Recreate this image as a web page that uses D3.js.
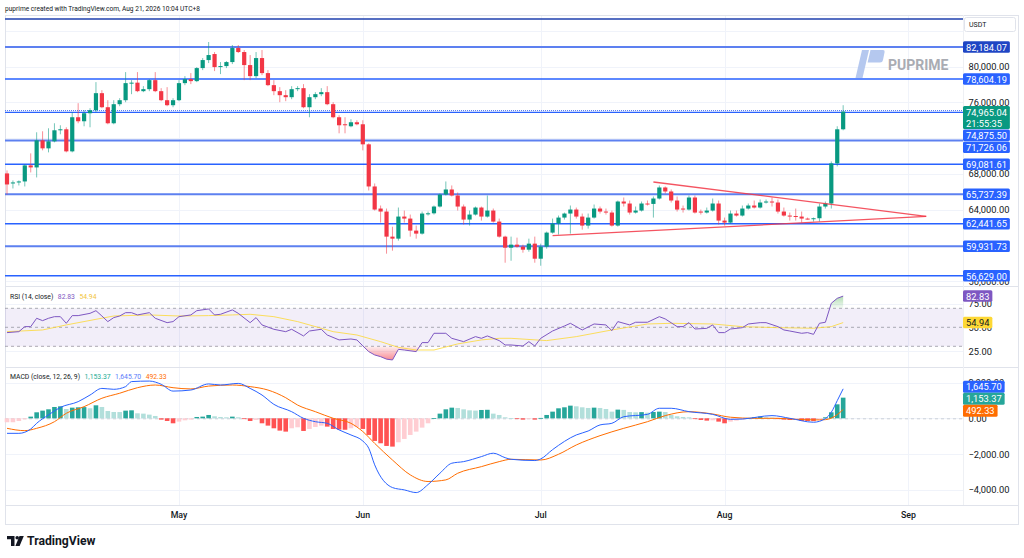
<!DOCTYPE html>
<html>
<head>
<meta charset="utf-8">
<script src="https://cdn.jsdelivr.net/npm/d3@7"></script>
<style>
body{margin:0;background:#fff;}
svg{display:block;font-family:Roboto,"Noto Sans",sans-serif;}
</style>
</head>
<body>
<div id="chart"></div>
<script>
//////////////////////データ//////////////////////
var startDay = "2026-04-02";//最初のローソク足（日足）

var opens = [
68057,66936,67048,67160,68954,68729,71756,70859,71644,72877,
72989,70523,74335,73886,74783,75119,77025,75455,73662,75792,
76240,78146,78200,77249,77473,78482,77249,76240,75680,76240,
78146,78594,78370,79827,80724,81397,79940,80052,80500,82069,
81621,80164,78930,80948,79267,77921,77249,76800,76576,77473,
77585,75455,76576,76913,77137,75792,74335,73550,73326,73774,
73550,71308,66600,64133,63797,60994,60770,63236,63012,61667,
61331,63573,63600,64357,65703,66263,65591,64357,62900,63461,
64245,63236,63909,62676,60994,59761,60098,59873,59537,60210,
58529,59873,61443,62452,63124,63573,64021,63236,62228,63124,
64133,63797,63685,62228,64918,64694,63685,63909,64694,64650,
65254,66487,66039,65030,64133,64021,65366,63797,63685,63909,
64694,62788,62564,63573,63349,64133,64470,64245,64806,64918,
64806,63797,63349,63300,63236,63012,62950,63050,64357,64694,
69178,72989
];
var highs = [
68393,67272,67272,69066,70299,72653,72765,73101,73662,73438,
73214,74895,75904,75119,75343,78258,77361,76240,76240,76464,
79379,78482,79379,77809,78594,79379,77585,77697,76464,78482,
78930,79267,79940,80948,82742,81621,80500,80612,82405,82405,
81845,81285,81621,81845,79603,78482,77697,77361,77809,77809,
78034,76913,77137,77585,77809,76016,74559,74335,74110,73998,
73998,71420,66936,64470,64133,62100,64245,63909,63461,62228,
63797,63797,64470,65815,67160,66712,65927,64582,63909,64357,
64357,65591,64133,63012,61100,60994,60882,60098,60770,60994,
60210,61560,63012,63349,63685,64470,64245,63573,63573,64582,
64357,64133,63909,65030,65366,65030,64357,64918,65030,65478,
66712,66600,66263,65478,64470,65591,65591,64021,64245,65254,
65030,63124,63909,63909,64470,64694,65030,65142,65142,65366,
65142,64245,63685,64133,63797,63124,63124,64694,64918,69400,
73326,75680
];
var lows = [
65703,66375,66712,66600,68169,67608,70635,70411,71532,72429,
70411,70411,73662,73326,73214,74895,75343,73550,73550,75567,
76016,76913,77137,77137,77249,77137,76128,75567,75455,76128,
77921,78034,78258,79603,80388,79491,79155,79827,80276,81509,
78482,78482,78706,79043,77809,76800,76016,76128,76352,77249,
75343,74335,76352,76688,75680,74222,72541,72541,73214,73438,
70635,66151,63909,62564,59089,59425,60546,62564,60994,60770,
61219,63349,63461,64245,65591,65478,63909,62340,62228,63349,
62788,63124,62564,60882,58080,58300,59761,59201,59313,58080,
57744,59649,61331,61219,62900,61331,63012,61779,61891,63012,
63573,63461,62115,62115,64357,63461,63573,63797,64470,63124,
65142,65815,64806,63797,63685,63909,63573,63461,63573,63797,
62340,62228,62452,63236,63236,64021,64133,64133,64694,64357,
63573,63236,62788,62788,62564,62900,62676,62676,64133,64133,
68842,72877
];
var closes = [
66824,67048,67160,68954,68729,71756,70859,71644,72877,72989,
70523,74335,73886,74783,75119,77025,75455,73662,75792,76240,
78146,78200,77249,77473,78482,77249,76240,75680,76240,78146,
78594,78370,79827,80724,81285,79940,80052,80500,82069,81621,
80164,78930,80948,79267,77921,77249,76800,76576,77473,77585,
75455,76576,76913,77137,75792,74335,73438,73438,73774,73550,
71308,66600,64021,63797,60994,60770,63236,63012,61667,61331,
63573,63600,64357,65703,66263,65591,64357,62900,63461,64245,
63236,63909,62676,60994,59761,60098,59873,59537,60210,58529,
59873,61443,62452,63124,63573,64021,63236,62228,63124,64133,
63797,63685,62228,64918,64694,63685,63909,64694,64650,65254,
66487,66039,65030,64021,64021,65366,63685,63685,63909,64694,
62788,62564,63573,63349,64133,64470,64245,64806,64918,64806,
63797,63349,63300,63236,63012,62980,63050,64357,64694,69178,
72989,74965.04
];

//水平線
var levels = [82184.07, 78604.19, 74875.50, 71726.06, 69081.61, 65737.39, 62441.65, 59931.73, 56629.00];
var darkLevel = 82184.07;
var topLevel = 85320;//ラベルなし
var lastPrice = 74965.04;
var countdown = "21:55:35";
var priceTicks = [56000, 64000, 68000, 76000, 80000];//72,000と60,000はラベルの下に隠れる
var gridPrices = [56000, 60000, 64000, 68000, 72000, 76000, 80000, 84000];

//トライアングル
var trendUpper = [["2026-07-20", 67100], ["2026-09-04", 63250]];
var trendLower = [["2026-07-03", 61100], ["2026-09-04", 63250]];

//RSI [日番号, 値]
var rsiPts = [
[0,44.4],[2,45.4],[3,50.7],[4,50.7],[5,59.5],[6,57],[7,59.5],[8,61.2],[9,61.2],[10,54.2],
[11,62.3],[12,62.3],[14,64.7],[15,67.5],[16,61.9],[17,56],[18,60.2],[19,61.9],[20,65.4],[21,65.4],
[22,63],[24,65.4],[25,59.5],[27,54.9],[28,56],[29,61.2],[31,63],[32,67.5],[34,69.3],[35,63],
[36,63.7],[38,68.3],[39,64.7],[41,54.9],[42,60.2],[43,52.5],[45,47.9],[47,45.4],[48,47.9],[50,40.9],
[51,46.1],[53,47.9],[54,41.9],[56,36.7],[58,37.7],[59,36.7],[60,30.5],[61,24.4],[62,20.9],[63,19.1],
[64,16.5],[65,15.6],[66,26.8],[67,26.1],[69,24.4],[70,33.9],[71,33.9],[72,43.7],[74,43.7],[75,38.4],
[77,34.9],[79,40.2],[80,38.4],[81,40.9],[83,36],[84,31.4],[85,31.4],[87,30.3],[88,34.9],[89,30.3],
[90,38.4],[92,46.1],[94,51.4],[95,54.2],[97,47.2],[99,53.5],[101,52.5],[102,46.5],[103,56],[105,52.5],
[106,55.3],[108,55.3],[110,61.2],[111,58.8],[113,50.7],[114,50.7],[115,54.9],[116,48.2],[118,48.9],[119,52.5],
[120,44.4],[121,44.4],[122,48.2],[124,49.6],[125,53.5],[127,54.9],[128,54.9],[130,50.7],[131,47.2],[132,46.1],
[134,43.7],[135,44.4],[136,42.6],[137,54.2],[138,55.3],[139,75.3],[140,80.5],[141,82.83]
];
var rsiMaPts = [
[0,45.4],[6,47.2],[10,52.5],[15,58.4],[18,61.9],[24,63],[29,61.9],[34,62.3],[38,63],[41,63.7],
[45,61.2],[49,56],[53,49],[55,45.4],[59,41.9],[63,34.9],[66,28.9],[69,26.1],[72,26.1],[76,32.5],
[80,36.7],[83,38.4],[85,38.4],[91,36],[96,40.2],[102,47.2],[108,53.5],[112,54.2],[119,53.5],[124,50.7],
[130,49.6],[136,49],[139,50.7],[141,54.94]
];
var rsiTicks = [25, 50, 75];

//MACD
var macdHist = [
-220,-220,-150,-56,93,335,428,502,632,670,
520,595,614,625,560,725,632,409,353,350,
428,446,279,260,205,130,-74,-149,-279,-186,
-112,-74,74,93,186,112,74,56,93,56,
-20,-149,-93,-279,-409,-558,-688,-744,-558,-502,
-707,-595,-484,-409,-465,-595,-632,-640,-558,-484,
-595,-930,-1265,-1395,-1544,-1581,-1339,-1153,-930,-744,
-521,-279,15,260,502,595,577,502,446,430,
465,475,260,186,56,5,-20,-74,-20,-74,
20,186,372,558,614,707,670,614,577,595,
577,520,372,484,470,353,335,345,316,353,
372,353,186,112,74,56,-37,-93,-130,-112,
-186,-279,-186,-130,-74,20,56,93,56,37,
-37,-74,-93,-90,-149,-150,-155,-93,56,335,
781,1153.37
];
var macdPts = [
[0,-840],[2,-840],[4,-600],[5,-280],[7,190],[9,610],[12,930],[14,1300],[16,1670],[18,1620],
[20,1770],[21,2050],[24,2080],[26,1900],[28,1520],[31,1580],[34,1920],[36,1860],[39,1950],[41,1670],
[43,1300],[45,780],[48,370],[50,0],[52,-190],[54,-280],[56,-650],[58,-930],[60,-1270],[61,-1670],
[62,-2600],[65,-3870],[67,-4000],[69,-4150],[71,-3700],[73,-3070],[75,-2510],[77,-2420],[80,-2140],[82,-1950],
[84,-2200],[85,-2290],[89,-2360],[90,-2270],[92,-1750],[96,-930],[98,-710],[100,-370],[102,-280],[104,90],
[108,220],[110,560],[112,560],[115,370],[119,220],[122,-60],[124,-40],[129,150],[132,0],[136,-220],
[138,-20],[139,340],[140,985],[141,1645.70]
];
var signalPts = [
[0,-560],[3,-690],[5,-560],[8,-190],[10,280],[13,650],[16,1120],[19,1400],[22,1710],[25,1860],
[28,1710],[31,1640],[34,1800],[38,1860],[41,1770],[44,1580],[47,1150],[49,740],[52,370],[55,0],
[58,-280],[60,-740],[62,-1400],[65,-2330],[68,-3160],[71,-3530],[74,-3440],[76,-3070],[80,-2700],[83,-2420],
[85,-2290],[90,-2330],[93,-2010],[96,-1490],[100,-970],[104,-560],[108,-190],[111,150],[115,370],[119,240],
[122,60],[126,0],[130,0],[133,-60],[137,-90],[138,-75],[139,9],[140,204],[141,492.33]
];
var macdTicks = [-4000, -2000, 0, 2000];

//////////////////////描画パラメータ//////////////////////
var W = 1024, H = 558;
var plotL = 5, plotR = 963, axisR = 1018;
var mainTop = 15, mainBot = 286, rsiBot = 367, macdBot = 505, axisBot = 524;
var upColor = "#089981", downColor = "#f23645";
var lineBlue = "#2962ff";
var fmt = d3.format(",.2f");

var t0 = d3.utcParse("%Y-%m-%d")(startDay);
var dayOf = function(s){ return d3.utcParse("%Y-%m-%d")(s); };
var xScale = d3.scaleUtc().domain([t0, d3.utcDay.offset(t0, 152)]).range([7, 908.4]);
function xi(i){ return xScale(d3.utcDay.offset(t0, i)); }

var yMain = d3.scaleLinear().domain([56629, 82184.07]).range([275.7, 47]);
var yRsi = d3.scaleLinear().domain([30, 70]).range([346.3, 308.3]);
var yMacd = d3.scaleLinear().domain([-4000, 0]).range([489.9, 418.3]);

var svg = d3.select("#chart").append("svg").attr("width", W).attr("height", H);
var defs = svg.append("defs");
svg.append("rect").attr("width", W).attr("height", H).attr("fill", "#fff");

//ヘッダ
svg.append("text").attr("x", 5).attr("y", 10.5).attr("font-size", 6.6).attr("fill", "#131722")
    .text("puprime created with TradingView.com, Aug 21, 2026 10:04 UTC+8");

//////////////////////グリッド//////////////////////
var grid = svg.append("g").attr("stroke", "#f0f3fa").attr("stroke-width", 1);
var months = d3.utcMonth.range(d3.utcDay.offset(t0, 1), d3.utcDay.offset(t0, 160));
months.forEach(function(m){
    var xx = Math.round(xScale(m)) + 0.5;
    grid.append("line").attr("x1", xx).attr("x2", xx).attr("y1", mainTop).attr("y2", macdBot);
});
gridPrices.forEach(function(p){
    var yy = Math.round(yMain(p)) + 0.5;
    grid.append("line").attr("x1", plotL).attr("x2", plotR).attr("y1", yy).attr("y2", yy);
});
rsiTicks.forEach(function(v){
    if (v === 50) return;
    var yy = Math.round(yRsi(v)) + 0.5;
    grid.append("line").attr("x1", plotL).attr("x2", plotR).attr("y1", yy).attr("y2", yy);
});
macdTicks.forEach(function(v){
    var yy = Math.round(yMacd(v)) + 0.5;
    grid.append("line").attr("x1", plotL).attr("x2", plotR).attr("y1", yy).attr("y2", yy);
});

//枠
var frame = svg.append("g").attr("stroke", "#e0e3eb").attr("fill", "none");
frame.append("rect").attr("x", plotL + 0.5).attr("y", mainTop + 0.5).attr("width", axisR - plotL).attr("height", axisBot - mainTop);
[mainBot, rsiBot, macdBot].forEach(function(yy){
    frame.append("line").attr("x1", plotL).attr("x2", axisR).attr("y1", yy + 0.5).attr("y2", yy + 0.5);
});
frame.append("line").attr("x1", plotR + 0.5).attr("x2", plotR + 0.5).attr("y1", mainTop).attr("y2", macdBot).attr("stroke", "#eef0f4");

//////////////////////メインペイン//////////////////////
var main = svg.append("g");

//水平線
main.append("line").attr("x1", plotL).attr("x2", plotR)
    .attr("y1", yMain(topLevel)).attr("y2", yMain(topLevel))
    .attr("stroke", "#1e3fae").attr("stroke-width", 1.5);
levels.forEach(function(p){
    var soft = (p === 82184.07 || p === 71726.06 || p === 65737.39 || p === 59931.73);
    main.append("line").attr("x1", plotL).attr("x2", plotR)
        .attr("y1", yMain(p)).attr("y2", yMain(p))
        .attr("stroke", soft ? "#5d80f0" : lineBlue)
        .attr("stroke-width", soft ? 2 : 1.4);
});
//現在値の点線
main.append("line").attr("x1", plotL).attr("x2", plotR)
    .attr("y1", yMain(lastPrice) - 1).attr("y2", yMain(lastPrice) - 1)
    .attr("stroke", "#4a73f0").attr("stroke-width", 1).attr("stroke-dasharray", "1,1");

//ローソク足
var candles = main.append("g");
closes.forEach(function(c, i){
    var o = opens[i];
    var col = c >= o ? upColor : downColor;
    var cx = xi(i);
    candles.append("line").attr("x1", cx).attr("x2", cx)
        .attr("y1", yMain(highs[i])).attr("y2", yMain(lows[i]))
        .attr("stroke", col).attr("stroke-width", 1).attr("opacity", 0.55);
    var top = yMain(Math.max(o, c)), bot = yMain(Math.min(o, c));
    candles.append("rect").attr("x", cx - 2.1).attr("width", 4.2)
        .attr("y", top).attr("height", Math.max(1, bot - top)).attr("fill", col);
});

//トライアングル
var trendLine = d3.line().x(function(d){ return xScale(dayOf(d[0])); }).y(function(d){ return yMain(d[1]); });
[trendUpper, trendLower].forEach(function(t){
    main.append("path").attr("d", trendLine(t)).attr("fill", "none")
        .attr("stroke", "#f23645").attr("stroke-width", 1.3).attr("opacity", 0.85);
});

//ウォーターマーク
var wm = svg.append("g");
wm.append("path").attr("d", "M862,50 L869,50 L862.5,78 L855.5,78 Z").attr("fill", "#b5c8ef");
wm.append("path").attr("d", "M870.5,50 L883,50 Q885,50 884.6,52 L883,60 Q882.5,62.5 880,62.5 L867.6,62.5 Z").attr("fill", "#b5c8ef");
wm.append("text").attr("x", 888).attr("y", 69.5).attr("font-size", 14).attr("font-weight", 700)
    .attr("fill", "#a9acb3").text("PUPRIME");

//////////////////////RSIペイン//////////////////////
var rsi = svg.append("g");
rsi.append("rect").attr("x", plotL).attr("width", plotR - plotL)
    .attr("y", yRsi(70)).attr("height", yRsi(30) - yRsi(70))
    .attr("fill", "rgba(126,87,194,0.1)");
[70, 50, 30].forEach(function(v){
    rsi.append("line").attr("x1", plotL).attr("x2", plotR)
        .attr("y1", yRsi(v)).attr("y2", yRsi(v))
        .attr("stroke", "#9598a1").attr("stroke-width", 0.8).attr("stroke-dasharray", "3,3");
});

var gUp = defs.append("linearGradient").attr("id", "gUp").attr("gradientUnits", "userSpaceOnUse")
    .attr("x1", 0).attr("x2", 0).attr("y1", yRsi(70)).attr("y2", yRsi(85));
gUp.append("stop").attr("offset", 0).attr("stop-color", "rgba(76,175,80,0.05)");
gUp.append("stop").attr("offset", 1).attr("stop-color", "rgba(76,175,80,0.5)");
var gDn = defs.append("linearGradient").attr("id", "gDn").attr("gradientUnits", "userSpaceOnUse")
    .attr("x1", 0).attr("x2", 0).attr("y1", yRsi(30)).attr("y2", yRsi(15));
gDn.append("stop").attr("offset", 0).attr("stop-color", "rgba(242,54,69,0.08)");
gDn.append("stop").attr("offset", 1).attr("stop-color", "rgba(242,54,69,0.6)");
defs.append("clipPath").attr("id", "clipUp").append("rect")
    .attr("x", plotL).attr("y", mainBot).attr("width", plotR - plotL).attr("height", yRsi(70) - mainBot);
defs.append("clipPath").attr("id", "clipDn").append("rect")
    .attr("x", plotL).attr("y", yRsi(30)).attr("width", plotR - plotL).attr("height", rsiBot - yRsi(30));

var areaUp = d3.area().x(function(d){ return xi(d[0]); }).y0(yRsi(70)).y1(function(d){ return yRsi(d[1]); });
var areaDn = d3.area().x(function(d){ return xi(d[0]); }).y0(yRsi(30)).y1(function(d){ return yRsi(d[1]); });
rsi.append("path").attr("d", areaUp(rsiPts)).attr("fill", "url(#gUp)").attr("clip-path", "url(#clipUp)");
rsi.append("path").attr("d", areaDn(rsiPts)).attr("fill", "url(#gDn)").attr("clip-path", "url(#clipDn)");

var rsiLine = d3.line().x(function(d){ return xi(d[0]); }).y(function(d){ return yRsi(d[1]); });
rsi.append("path").attr("d", rsiLine(rsiMaPts)).attr("fill", "none").attr("stroke", "#fdd835").attr("stroke-width", 1).attr("opacity", 0.8);
rsi.append("path").attr("d", rsiLine(rsiPts)).attr("fill", "none").attr("stroke", "#7e57c2").attr("stroke-width", 1);

//////////////////////MACDペイン//////////////////////
var macd = svg.append("g");
macd.append("line").attr("x1", plotL).attr("x2", plotR)
    .attr("y1", yMacd(0) + 0.5).attr("y2", yMacd(0) + 0.5)
    .attr("stroke", "#c3c6ce").attr("stroke-width", 0.8).attr("stroke-dasharray", "3,3");
macdHist.forEach(function(v, i){
    var prev = i > 0 ? macdHist[i - 1] : v;
    var col;
    if (v >= 0) col = v >= prev ? "#26a69a" : "#b2dfdb";
    else col = v < prev ? "#ff5252" : "#ffcdd2";
    var y0 = yMacd(0), y1 = yMacd(v);
    macd.append("rect").attr("x", xi(i) - 2.3).attr("width", 4.6)
        .attr("y", Math.min(y0, y1)).attr("height", Math.max(0.8, Math.abs(y1 - y0)))
        .attr("fill", col);
});
var macdLine = d3.line().curve(d3.curveMonotoneX)
    .x(function(d){ return xi(d[0]); }).y(function(d){ return yMacd(d[1]); });
macd.append("path").attr("d", macdLine(signalPts)).attr("fill", "none").attr("stroke", "#ff6d00").attr("stroke-width", 1);
macd.append("path").attr("d", macdLine(macdPts)).attr("fill", "none").attr("stroke", lineBlue).attr("stroke-width", 1);

//////////////////////凡例//////////////////////
function legend(yy, items){
    var xx = 10;
    items.forEach(function(it){
        var t = svg.append("text").attr("x", xx).attr("y", yy).attr("font-size", 6.8)
            .attr("dominant-baseline", "central").attr("fill", it[1]).text(it[0]);
        xx += t.node().getComputedTextLength() + 4.5;
    });
}
legend(296.5, [["RSI (14, close)", "#131722"], ["82.83", "#7e57c2"], ["54.94", "#f2c53d"]]);
legend(376.5, [["MACD (close, 12, 26, 9)", "#131722"], [fmt(macdHist[macdHist.length - 1]), "#22ab94"], [fmt(1645.70), "#5b7cfa"], [fmt(492.33), "#ff6d00"]]);

//////////////////////価格軸//////////////////////
var axisG = svg.append("g").attr("font-size", 9.3).attr("fill", "#131722");
function tickText(yy, s){
    axisG.append("text").attr("x", 968.5).attr("y", yy).attr("dominant-baseline", "central").text(s);
}
priceTicks.forEach(function(p){ tickText(yMain(p), fmt(p)); });
rsiTicks.forEach(function(v){ tickText(yRsi(v), fmt(v)); });
macdTicks.forEach(function(v){ tickText(yMacd(v), fmt(v)); });

//USDT
svg.append("rect").attr("x", 964.5).attr("y", 17.5).attr("width", 51).attr("height", 14)
    .attr("rx", 2).attr("fill", "#fff").attr("stroke", "#e0e3eb");
svg.append("text").attr("x", 969).attr("y", 24.8).attr("font-size", 7).attr("dominant-baseline", "central")
    .attr("fill", "#131722").text("USDT");

//ラベル（重なり回避）
function placeDown(list){
    list.sort(function(a, b){ return a.y - b.y; });
    var bottom = -1e9;
    list.forEach(function(b){
        var top = b.y - b.off;
        if (top < bottom + 0.5) top = bottom + 0.5;
        b.top = top;
        bottom = top + b.h;
    });
}
function placeSpread(list){
    list.sort(function(a, b){ return a.y - b.y; });
    var groups = list.map(function(b){ return [b]; });
    var merged = true;
    function layout(g){
        var mean = d3.mean(g, function(b){ return b.y; });
        var total = d3.sum(g, function(b){ return b.h; });
        var top = mean - total / 2;
        g.forEach(function(b){ b.top = top; top += b.h; });
    }
    groups.forEach(layout);
    while (merged){
        merged = false;
        for (var k = 0; k < groups.length - 1; k++){
            var a = groups[k], b = groups[k + 1];
            var aEnd = a[a.length - 1];
            if (aEnd.top + aEnd.h > b[0].top){
                groups.splice(k, 2, a.concat(b));
                layout(groups[k]);
                merged = true;
                break;
            }
        }
    }
}
function drawBoxes(list){
    list.forEach(function(b){
        var g = svg.append("g");
        var texts = b.rows.map(function(r, k){
            return g.append("text").attr("x", 966).attr("y", b.top + b.rowH * (k + 0.5) + 0.3)
                .attr("font-size", 9.3).attr("dominant-baseline", "central").attr("fill", b.fg).text(r);
        });
        var w = d3.max(texts, function(t){ return t.node().getComputedTextLength(); }) + 6;
        g.insert("rect", "text").attr("x", 963).attr("y", b.top).attr("width", w).attr("height", b.h)
            .attr("rx", 1.5).attr("fill", b.bg);
    });
}

var mainBoxes = levels.map(function(p){
    return { y: yMain(p), off: 5.75, h: 11.5, rowH: 11.5, rows: [fmt(p)], bg: p === darkLevel ? "#1f45c4" : lineBlue, fg: "#fff" };
});
mainBoxes.push({ y: yMain(lastPrice), off: 5.5, h: 23, rowH: 11.5, rows: [fmt(lastPrice), countdown], bg: upColor, fg: "#fff" });
placeDown(mainBoxes);
drawBoxes(mainBoxes);

var rsiBoxes = [
    { y: yRsi(82.83), h: 11.5, rowH: 11.5, rows: ["82.83"], bg: "#7e57c2", fg: "#fff" },
    { y: yRsi(54.94), h: 11.5, rowH: 11.5, rows: ["54.94"], bg: "#fdd835", fg: "#131722" }
];
placeSpread(rsiBoxes);
drawBoxes(rsiBoxes);

var macdBoxes = [
    { y: yMacd(1645.70), h: 12, rowH: 12, rows: [fmt(1645.70)], bg: lineBlue, fg: "#fff" },
    { y: yMacd(macdHist[macdHist.length - 1]), h: 12, rowH: 12, rows: [fmt(macdHist[macdHist.length - 1])], bg: "#26a69a", fg: "#fff" },
    { y: yMacd(492.33), h: 12, rowH: 12, rows: [fmt(492.33)], bg: "#ff6d00", fg: "#fff" }
];
placeSpread(macdBoxes);
drawBoxes(macdBoxes);

//////////////////////時間軸//////////////////////
months.forEach(function(m){
    svg.append("text").attr("x", xScale(m)).attr("y", 514.5).attr("text-anchor", "middle")
        .attr("dominant-baseline", "central").attr("font-size", 8.8).attr("font-weight", 500)
        .attr("fill", "#131722").text(d3.utcFormat("%b")(m));
});

//TradingViewロゴ
var tv = svg.append("g").attr("fill", "#131722");
tv.append("path").attr("d", "M7,536 L14.5,536 L14.5,546 L11,546 L11,539.3 L7,539.3 Z");
tv.append("circle").attr("cx", 17.2).attr("cy", 537.8).attr("r", 1.8);
tv.append("path").attr("d", "M19.5,536 L23.8,536 L19.6,546 L15.4,546 Z");
tv.append("text").attr("x", 27).attr("y", 541.3).attr("font-size", 12.2).attr("font-weight", 700)
    .attr("dominant-baseline", "central").text("TradingView");
</script>
</body>
</html>
